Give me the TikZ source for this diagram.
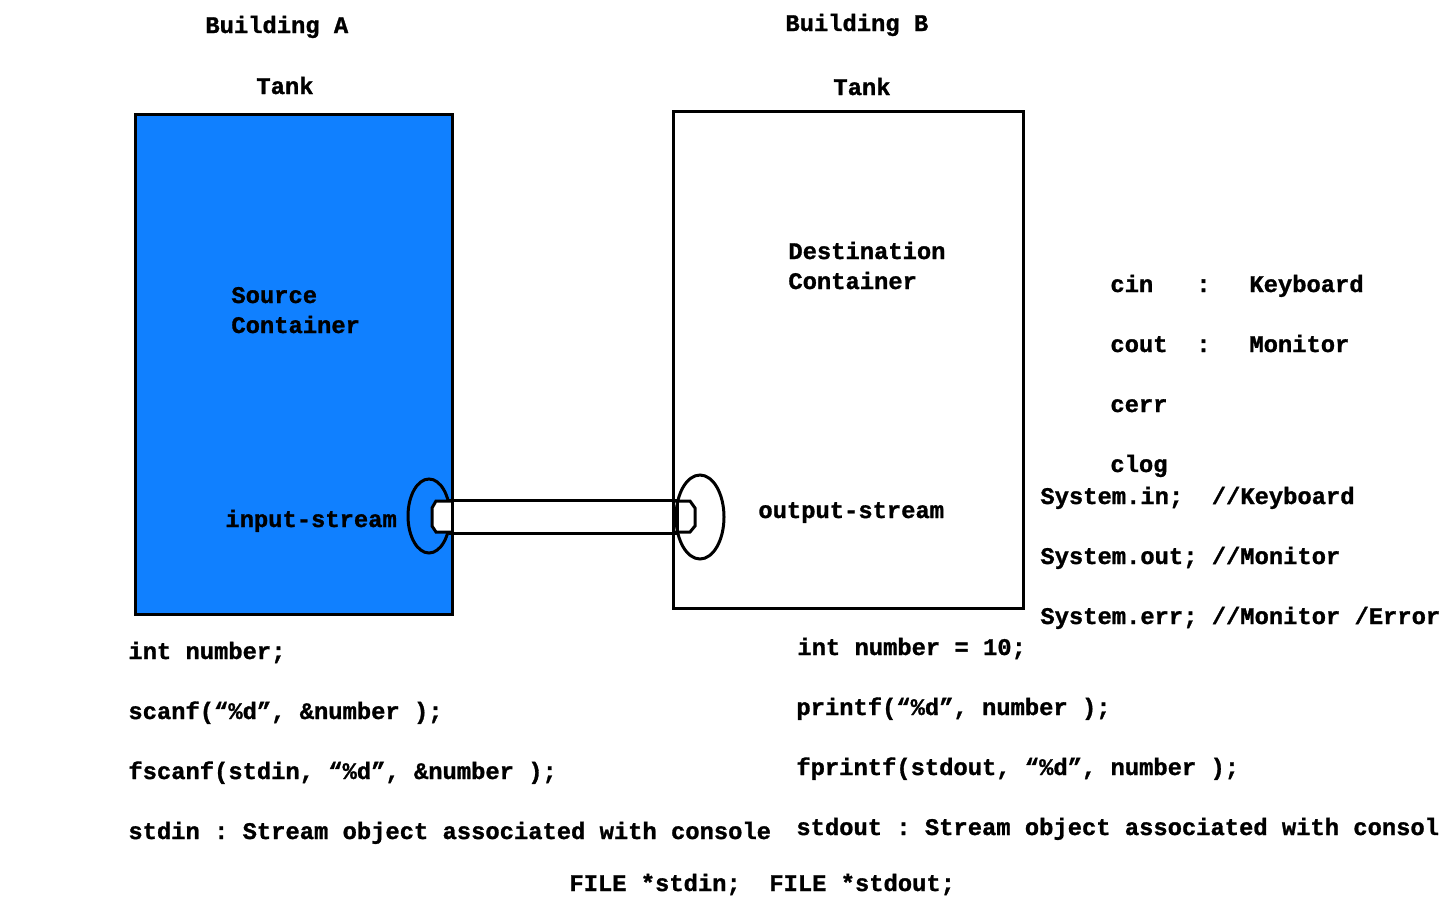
\documentclass[tikz,border=0pt]{standalone}
\usepackage{fontspec}
\setmonofont[BoldFeatures={FakeBold=1.2}]{Liberation Mono}
\definecolor{tankblue}{RGB}{16,128,255}
\begin{document}
\begin{tikzpicture}[x=0.5pt,y=-0.5pt,
  lbl/.style={anchor=base west,inner sep=0pt,font=\ttfamily\bfseries\fontsize{11.9}{14}\selectfont},
  thick line/.style={line width=1.5pt},
]
\useasboundingbox (0,0) rectangle (1440,900);
\clip (0,0) rectangle (1440,900);
% tanks
\draw[thick line,fill=tankblue] (135,114) rectangle (452,614);
% pipe
\draw[thick line,fill=white] (450,500) rectangle (677,533);
\draw[thick line] (673,111) rectangle (1023,608);
% left connector
\draw[thick line] (429,516) ellipse [x radius=21, y radius=37];
\draw[thick line,fill=white] (451,501) -- (436,501) -- (432,508) -- (432,526) -- (436,532) -- (451,532);
\draw[thick line] (452,480) -- (452,555);
% right connector
\draw[thick line] (700,517) ellipse [x radius=24, y radius=42];
\draw[thick line] (675,501) -- (690,501) -- (695,508) -- (695,526) -- (690,532) -- (675,532);
% labels
\node[lbl] (bA) at (205,33) {Building A};
\node[lbl] (bB) at (785,31) {Building B};
\node[lbl] (tA) at (256,94) {Tank};
\node[lbl] (tB) at (833,95) {Tank};
\node[lbl] (src1) at (231,303) {Source};
\node[lbl] (src2) at (231,333) {Container};
\node[lbl] (dst1) at (788,259) {Destination};
\node[lbl] (dst2) at (788,289) {Container};
\node[lbl] (ins) at (225,527) {input-stream};
\node[lbl] (outs) at (758,518) {output-stream};
% right notes
\node[lbl] (cin) at (1110,292) {cin};
\node[lbl] (cinc) at (1196,292) {:};
\node[lbl] (cink) at (1249,292) {Keyboard};
\node[lbl] (cout) at (1110,352) {cout};
\node[lbl] (coutc) at (1196,352) {:};
\node[lbl] (coutm) at (1249,352) {Monitor};
\node[lbl] (cerr) at (1110,412) {cerr};
\node[lbl] (clog) at (1110,472) {clog};
\node[lbl] (sin) at (1040,504) {System.in;\ \ //Keyboard};
\node[lbl] (sout) at (1040,564) {System.out; //Monitor};
\node[lbl] (serr) at (1040,624) {System.err; //Monitor /Error};
% left code
\node[lbl] (l1) at (128,659) {int number;};
\node[lbl] (l2) at (128,719) {scanf(“\%d”, \&number );};
\node[lbl] (l3) at (128,779) {fscanf(stdin, “\%d”, \&number );};
\node[lbl] (l4) at (128,839) {stdin : Stream object associated with console};
% right code
\node[lbl] (r1) at (797,655) {int number = 10;};
\node[lbl] (r2) at (796,715) {printf(“\%d”, number );};
\node[lbl] (r3) at (796,775) {fprintf(stdout, “\%d”, number );};
\node[lbl] (r4) at (796,835) {stdout : Stream object associated with consol};
\node[lbl] (file) at (569,891) {FILE *stdin;\ \ FILE *stdout;};
\end{tikzpicture}
\end{document}
